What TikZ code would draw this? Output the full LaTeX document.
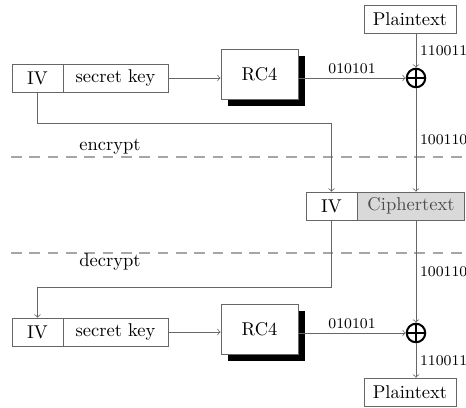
\documentclass[tikz,border=0pt]{standalone}
\usetikzlibrary{shadows}

\begin{document}
\begin{tikzpicture}[x=0.54pt,y=-0.54pt,
	box/.style={draw=black!60, rectangle, minimum height=15pt, inner sep=2pt},
	ivbox/.style={box, minimum width=27.5pt},
	keybox/.style={box, minimum width=56.7pt},
	txtbox/.style={box, minimum width=49.7pt},
	rcbox/.style={draw=black!60, fill=white, minimum width=41.6pt, minimum height=27pt,
		drop shadow={shadow xshift=3.8pt, shadow yshift=-3.8pt, fill=black, opacity=1}},
	xorop/.style={circle, draw, line width=1.1pt, minimum size=10pt, inner sep=0pt,
		path picture={\draw[line width=1.1pt] (path picture bounding box.north) -- (path picture bounding box.south)
			(path picture bounding box.west) -- (path picture bounding box.east);}},
	conn/.style={draw=black!60, ->},
	bits/.style={font=\footnotesize, inner sep=2pt},
	divider/.style={draw=black!35, line width=0.8pt, dash pattern=on 5.8pt off 4.1pt}]
	\useasboundingbox (0,0) rectangle (466,408);

	\node[txtbox] (ptop) at (410,19) {Plaintext};
	\node[xorop] (xor1) at (416,78) {};
	\node[ivbox] (ivA) at (37.5,78) {IV};
	\node[keybox] (keyA) at (115.5,78) {secret key};
	\node[rcbox] (rcA) at (259.5,74) {RC4};

	\node[ivbox] (ivC) at (331.5,206) {IV};
	\node[keybox, fill=black!15, text=black!70, minimum width=58pt] (ctC) at (411,206) {Ciphertext};

	\node[ivbox] (ivB) at (37.5,332) {IV};
	\node[keybox] (keyB) at (115.5,332) {secret key};
	\node[rcbox] (rcB) at (259.5,329) {RC4};
	\node[xorop] (xor2) at (416,333) {};
	\node[txtbox] (pbot) at (410,392) {Plaintext};

	\draw[divider] (11,157) -- (466,157);
	\draw[divider] (11,253) -- (466,253);
	\node (enc) at (110,147) {encrypt};
	\node (dec) at (110,262) {decrypt};

	\coordinate (bendA) at (37.5,123);
	\coordinate (bendB) at (331.5,287);

	\draw[conn] (xor1 |- ptop.south) -- (xor1.north) node[bits, midway, right] {110011};
	\draw[conn] (keyA.east) -- (keyA.east -| rcA.west);
	\draw[conn] (xor1 -| rcA.east) -- (xor1.west) node[bits, midway, above] {010101};
	\draw[conn] (xor1.south) -- (xor1 |- ctC.north) node[bits, midway, right] {100110};
	\draw[conn] (ivA.south) -- (bendA) -| (ivC.north);

	\draw[conn] (xor2 |- ctC.south) -- (xor2.north) node[bits, midway, right] {100110};
	\draw[conn] (ivC.south) -- (bendB) -| (ivB.north);
	\draw[conn] (keyB.east) -- (keyB.east -| rcB.west);
	\draw[conn] (xor2 -| rcB.east) -- (xor2.west) node[bits, midway, above] {010101};
	\draw[conn] (xor2.south) -- (xor2 |- pbot.north) node[bits, midway, right] {110011};
\end{tikzpicture}
\end{document}
